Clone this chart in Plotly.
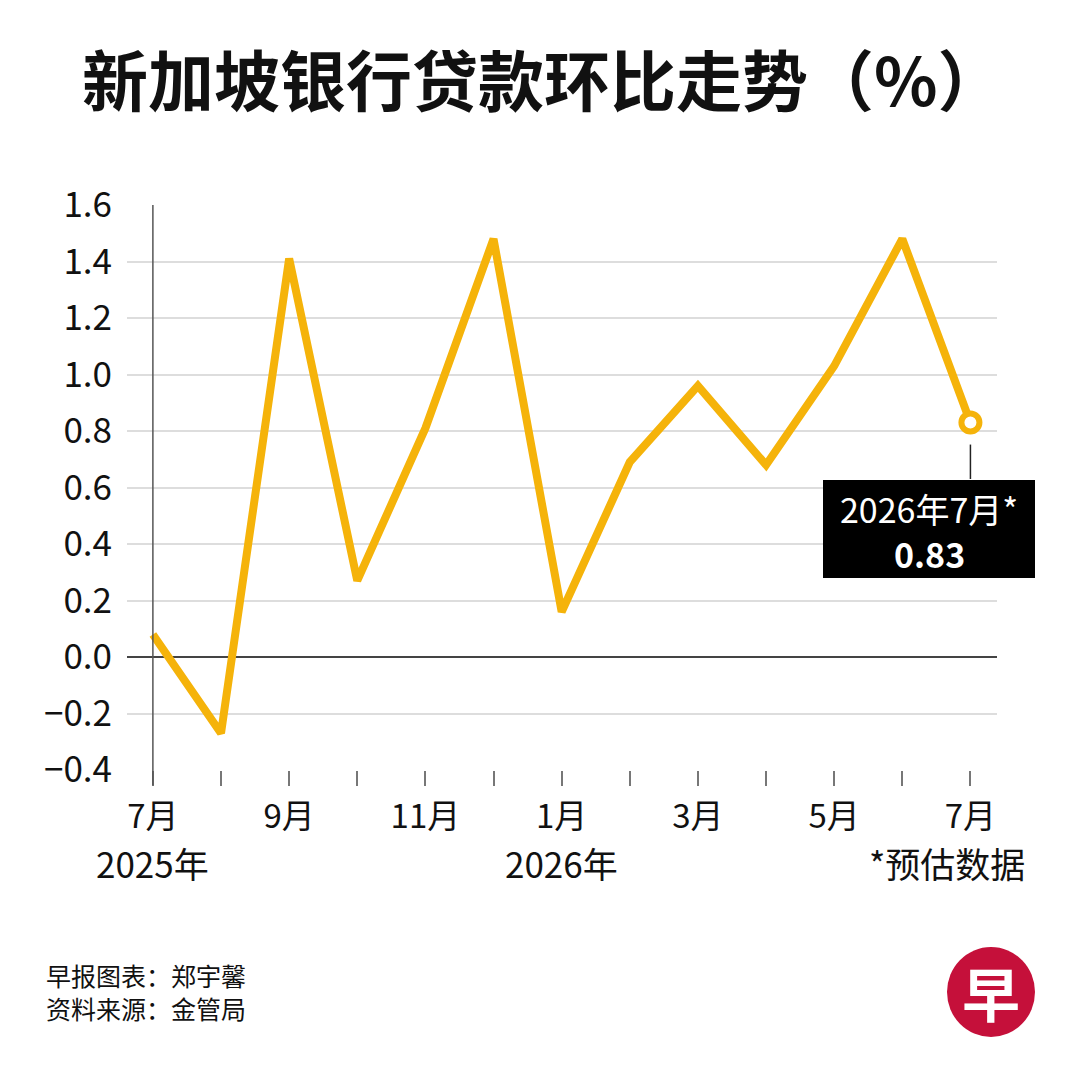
import plotly.graph_objects as go

# monthly loan growth, month-on-month (%)
months = ["7月", "8月", "9月", "10月", "11月", "12月", "1月",
          "2月", "3月", "4月", "5月", "6月", "7月"]
values = [0.08, -0.27, 1.41, 0.27, 0.81, 1.48, 0.16,
          0.69, 0.96, 0.68, 1.03, 1.48, 0.83]
year_labels = {0: "2025年", 6: "2026年", 12: "*预估数据"}
ytick_vals = [-0.4, -0.2, 0.0, 0.2, 0.4, 0.6, 0.8, 1.0, 1.2, 1.4, 1.6]

font = "Noto Sans CJK SC"
yellow = "#F5B30A"

# the page puts the figure 8px in from the top-left corner
OFF = 8
W = H = 1080 - OFF
margin = dict(l=127 - OFF, r=1080 - 997, t=205 - OFF, b=1080 - 770)
pw = W - margin["l"] - margin["r"]
ph = H - margin["t"] - margin["b"]


def px_to_paper(px, py):
    # screen pixels -> paper coords
    return (px - OFF - margin["l"]) / pw, (H - margin["b"] - (py - OFF)) / ph


x = list(range(len(values)))
ticktext = [m if i % 2 == 0 else "" for i, m in enumerate(months)]

fig = go.Figure()
fig.add_trace(go.Scatter(x=x, y=values, mode="lines",
                         line=dict(color=yellow, width=8),
                         hoverinfo="skip"))
# last (estimated) point
fig.add_trace(go.Scatter(x=[x[-1]], y=[values[-1]], mode="markers",
                         marker=dict(size=18, color="white",
                                     line=dict(color=yellow, width=6)),
                         hoverinfo="skip"))

# y axis line at first month, runs down through the tick
fig.add_shape(type="line", xref="x", yref="paper", x0=0, x1=0, y0=-0.027, y1=1,
              line=dict(color="#555", width=1.5), layer="above")
# connector from marker to label box
fig.add_shape(type="line", xref="x", yref="y", x0=x[-1], x1=x[-1],
              y0=values[-1] - 0.078, y1=values[-1] - 0.2,
              line=dict(color="#222", width=1.5))

# label box for the latest value
bx0, by0 = px_to_paper(823, 480)
bx1, by1 = px_to_paper(1035, 578)
fig.add_shape(type="rect", xref="paper", yref="paper",
              x0=bx0, y0=by1, x1=bx1, y1=by0,
              fillcolor="black", line=dict(width=0))
for txt, py in [("2026年7月*", 508), ("<b>%.2f</b>" % values[-1], 553)]:
    lx, ly = px_to_paper(929, py)
    fig.add_annotation(x=lx, y=ly, xref="paper", yref="paper",
                       xanchor="center", yanchor="middle", text=txt,
                       showarrow=False,
                       font=dict(family=font, size=34, color="white"))

# second line under the month ticks
_, yy = px_to_paper(0, 862)
for i, t in year_labels.items():
    if i == len(months) - 1:
        xx, _ = px_to_paper(947, 0)
        xr = "paper"
    else:
        xx, xr = i, "x"
    fig.add_annotation(x=xx, y=yy, xref=xr, yref="paper", text=t,
                       showarrow=False, xanchor="center", yanchor="middle",
                       font=dict(family=font, size=35, color="#111"))

# title
tx, ty = px_to_paper(80, 77)
fig.add_annotation(x=tx, y=ty, xref="paper", yref="paper",
                   text="<b>新加坡银行贷款环比走势（%）</b>", showarrow=False,
                   xanchor="left", yanchor="middle",
                   font=dict(family=font, size=66, color="#111"))

# footer
for line, py in [("早报图表：郑宇馨", 975), ("资料来源：金管局", 1008)]:
    fx, fy = px_to_paper(44, py)
    fig.add_annotation(x=fx, y=fy, xref="paper", yref="paper", text=line,
                       showarrow=False, xanchor="left", yanchor="middle",
                       font=dict(family=font, size=25, color="#111"))

# logo
cx0, cy0 = px_to_paper(947, 947)
cx1, cy1 = px_to_paper(1035, 1037)
fig.add_shape(type="circle", xref="paper", yref="paper",
              x0=cx0, y0=cy1, x1=cx1, y1=cy0,
              fillcolor="#C5103A", line=dict(width=0))
lx, ly = px_to_paper(991, 992)
fig.add_annotation(x=lx, y=ly, xref="paper", yref="paper", text="<b>早</b>",
                   showarrow=False, xanchor="center", yanchor="middle",
                   font=dict(family=font, size=58, color="white"))

fig.update_layout(
    width=W, height=H,
    margin=margin,
    paper_bgcolor="white", plot_bgcolor="white",
    showlegend=False,
    xaxis=dict(range=[-0.38, 12.39], tickvals=x, ticktext=ticktext,
               ticks="outside", ticklen=15, tickwidth=1.5, tickcolor="#777",
               showgrid=False, zeroline=False, showline=False,
               ticklabelstandoff=2,
               tickfont=dict(family=font, size=33, color="#111")),
    yaxis=dict(range=[-0.4, 1.6], tickvals=ytick_vals, tickformat=".1f",
               showgrid=True, gridcolor="#DDDDDD", gridwidth=1.5,
               zeroline=True, zerolinecolor="#444", zerolinewidth=1.5,
               showline=False, ticks="", ticklabelstandoff=14,
               tickfont=dict(family=font, size=35, color="#111")),
)

fig.write_html("out.html")
